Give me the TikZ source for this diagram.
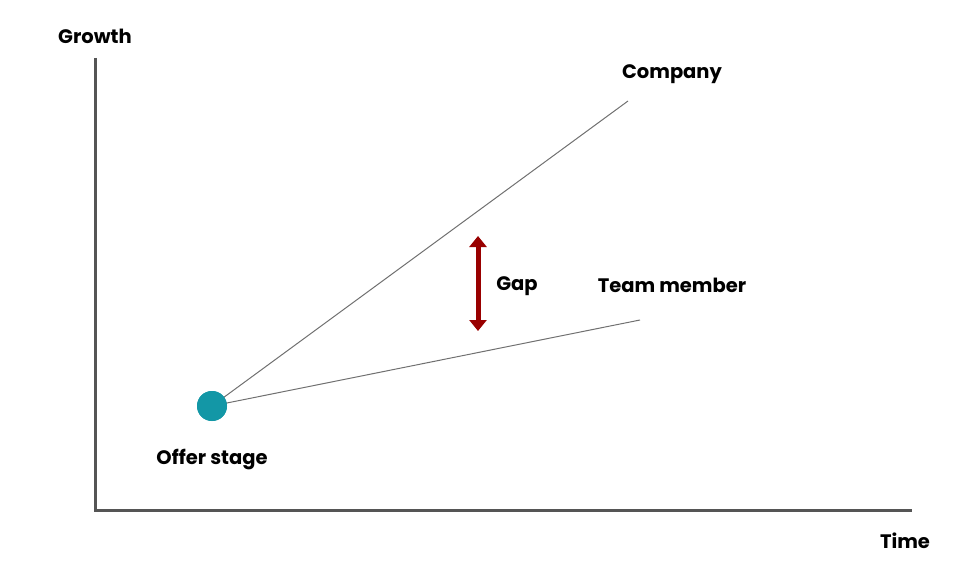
\documentclass[tikz,border=0pt]{standalone}
\usepackage{fontspec}
\setmainfont{Poppins}
\usepackage{tikz}
\usetikzlibrary{calc,arrows.meta,positioning}
\definecolor{axisc}{HTML}{555555}
\definecolor{linec}{HTML}{707070}
\definecolor{dotc}{HTML}{1397A6}
\definecolor{gapc}{HTML}{990000}
\tikzset{
  lbl/.style={font=\bfseries\fontsize{19.5}{22}\selectfont,text=black,inner sep=0pt},
  axis/.style={axisc,line width=3pt},
  trend/.style={linec,line width=1pt}
}
\begin{document}
\begin{tikzpicture}[x=1pt,y=-1pt]
\useasboundingbox (0,0) rectangle (960,580);
% axes
\coordinate (top) at (95,58);
\coordinate (orig) at (95,510);
\coordinate (right) at (912,510);
\draw[axis] (top)--(orig)--(right);
\node[lbl] (growth) at (95,36) {Growth};
\node[lbl] (time) at (905,541) {Time};
% lines from the offer stage
\node[circle,fill=dotc,minimum size=30pt,inner sep=0pt] (offer) at (212,406) {};
\coordinate (comp) at (628,101);
\coordinate (team) at (640,320);
\draw[trend] (offer.center)--(comp);
\draw[trend] (offer.center)--(team);
\fill[dotc] (offer) circle (15pt);
\node[lbl] (offerlbl) at (212,460) {Offer stage};
\node[lbl] (complbl) at (672,74) {Company};
\node[lbl] (teamlbl) at (672,285) {Team member};
% gap
\coordinate (gaptop) at (478,236);
\coordinate (gapbot) at (478,331);
\draw[gapc,line width=5pt,{Triangle[length=11pt,width=17pt]}-{Triangle[length=11pt,width=17pt]}] (gaptop)--(gapbot);
\node[lbl] (gap) at (517,286) {Gap};
\end{tikzpicture}
\end{document}
